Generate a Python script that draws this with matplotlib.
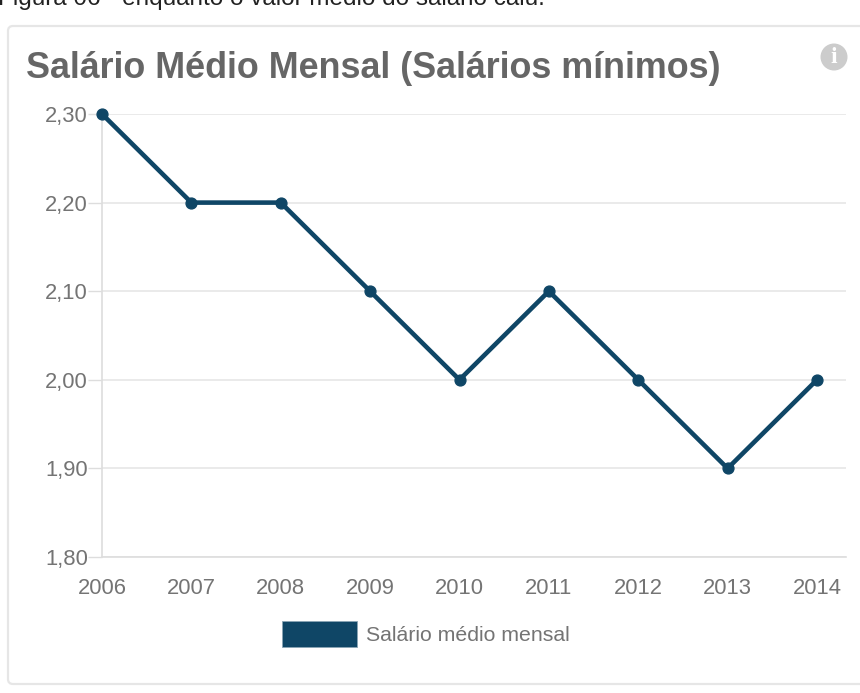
import matplotlib
matplotlib.use('Agg')
import matplotlib.pyplot as plt
from matplotlib.patches import FancyBboxPatch, Circle, Patch

plt.rcParams['font.family'] = ['Liberation Sans', 'DejaVu Sans']

anos = ['2006', '2007', '2008', '2009', '2010', '2011', '2012', '2013', '2014']
salario = [2.30, 2.20, 2.20, 2.10, 2.00, 2.10, 2.00, 1.90, 2.00]
ticks_y = [1.80, 1.90, 2.00, 2.10, 2.20, 2.30]
titulo = 'Salário Médio Mensal (Salários mínimos)'
legenda = 'Salário médio mensal'
legenda_fig = 'Figura 06 - enquanto o valor médio do salário caiu.'

AZUL = '#0f4666'
W, H = 860, 693

fig = plt.figure(figsize=(W / 100, H / 100), dpi=100, facecolor='white')

# layer in pixel coordinates for the card and header
bg = fig.add_axes([0, 0, 1, 1])
bg.set_xlim(0, W)
bg.set_ylim(H, 0)
bg.axis('off')
bg.add_patch(FancyBboxPatch((8, 26), 860, 658, boxstyle='round,pad=0,rounding_size=5',
                            fc='white', ec='#e6e6e6', lw=1.6))
bg.text(-2, 5, legenda_fig, fontsize=17.5, color='#222222', va='baseline', ha='left')
bg.text(26, 69, titulo, fontsize=25.8, fontweight='bold', color='#666666',
        va='center', ha='left')
bg.add_patch(Circle((834, 57), 13.5, fc='#cccccc', ec='none'))
bg.text(834, 57.5, 'i', fontsize=17, fontweight='bold', family='Liberation Serif',
        color='white', ha='center', va='center')

# x runs a bit past the last year, the grid continues to the card edge
x = list(range(len(anos)))
left, right = 102, 846
top, bottom = 114, 557
ax = fig.add_axes([left / W, 1 - bottom / H, (right - left) / W, (bottom - top) / H])
ax.patch.set_alpha(0)
ax.set_xlim(0, (right - left) / ((817 - 102) / 8))
ax.set_ylim(1.80, 2.30)

ax.plot(x, salario, color=AZUL, lw=3.3, marker='o', ms=7.8, clip_on=False, zorder=5,
        solid_joinstyle='round')

ax.set_xticks(x)
ax.set_xticklabels(anos)
ax.set_yticks(ticks_y)
ax.set_yticklabels([('%.2f' % v).replace('.', ',') for v in ticks_y])
ax.grid(axis='y', color='#e6e6e6', lw=1.2)
ax.set_axisbelow(True)
ax.tick_params(axis='x', length=0, pad=15, labelsize=15.8, labelcolor='#747474')
ax.tick_params(axis='y', length=10, width=1, color='#dddddd', pad=0, labelsize=15.8,
               labelcolor='#747474')
for s in ['top', 'right']:
    ax.spines[s].set_visible(False)
for s in ['left', 'bottom']:
    ax.spines[s].set_color('#dddddd')
    ax.spines[s].set_linewidth(1.2)

handle = Patch(fc=AZUL, ec='#8aa5b5', lw=0.6, label=legenda)
fig.legend(handles=[handle], loc='center', bbox_to_anchor=(425.5 / W, 1 - 634 / H),
           frameon=False, fontsize=15.3, labelcolor='#747474',
           handlelength=3.53, handleheight=1.5, handletextpad=0.42)

fig.savefig('out.png', dpi=100, facecolor='white')
